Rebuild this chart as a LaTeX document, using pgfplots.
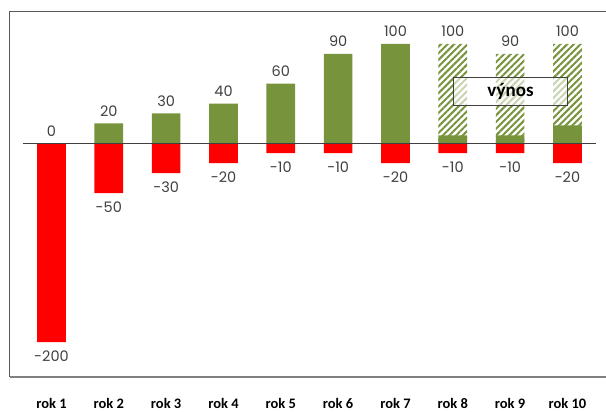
\documentclass[border=0pt]{standalone}
\usepackage{pgfplots}
\pgfplotsset{compat=1.18}
\usetikzlibrary{patterns.meta}
\usepackage{fontspec}
\setmainfont{Carlito}
\newfontfamily\numfont{Poppins}
\definecolor{olivebar}{HTML}{77933C}
\definecolor{lab}{HTML}{404040}
\begin{document}
\begin{tikzpicture}[x=1pt,y=1pt]
\path[use as bounding box] (0,0) rectangle (606,412);
\begin{axis}[
  at={(10pt,35pt)}, anchor=south west,
  scale only axis, width=596pt, height=366pt,
  xmin=0.2761, xmax=10.672, ymin=-235.1, ymax=133.1,
  axis line style={draw=none},
  xtick={1,...,10},
  xticklabels={rok 1,rok 2,rok 3,rok 4,rok 5,rok 6,rok 7,rok 8,rok 9,rok 10},
  ytick=\empty, major tick length=0pt,
  xticklabel style={font=\fontsize{14.5}{16}\selectfont\bfseries, text=black, yshift=-18pt},
  clip=false,
  /pgf/number format/assume math mode=true,
  nodes near coords style={font=\numfont\fontsize{14.5}{16}\selectfont, text=lab},
]
% red (costs)
\addplot[ybar, bar width=0.5, bar shift=0pt, fill=red, draw=none,
  nodes near coords,
  every node near coord/.append style={anchor=north, yshift=-5pt}]
  coordinates {(1,-200)(2,-50)(3,-30)(4,-20)(5,-10)(6,-10)(7,-20)(8,-10)(9,-10)(10,-20)};
% green solid
\addplot[ybar, bar width=0.5, bar shift=0pt, fill=olivebar, draw=none,
  nodes near coords,
  every node near coord/.append style={anchor=south, yshift=3.5pt}]
  coordinates {(1,0)(2,20)(3,30)(4,40)(5,60)(6,90)(7,100)};
% hatched (expected revenue)
\addplot[ybar, bar width=0.5, bar shift=0pt, draw=none,
  pattern={Lines[angle=45,distance=4.7pt,line width=2pt]}, pattern color=olivebar,
  nodes near coords,
  every node near coord/.append style={anchor=south, yshift=3.5pt}]
  coordinates {(8,100)(9,90)(10,100)};
% solid part of later years
\addplot[ybar, bar width=0.5, bar shift=0pt, fill=olivebar, draw=none]
  coordinates {(8,8)(9,8)(10,18)};
\draw[lab, line width=0.9pt] (axis cs:0.5,0) -- (axis cs:10.5,0);
\draw[lab, line width=0.8pt, fill=white, fill opacity=0.6, text opacity=1]
  (axis cs:8.009,38.5) rectangle (axis cs:10.004,66.4)
  node[midway, text=black, font=\fontsize{19}{22}\selectfont\bfseries] {výnos};
\end{axis}
\draw[black!65, line width=0.9pt] (606,401) -- (9.5,401) -- (9.5,35);
\draw[black!50, line width=1.6pt] (9.5,35) -- (606,35);
\end{tikzpicture}
\end{document}
